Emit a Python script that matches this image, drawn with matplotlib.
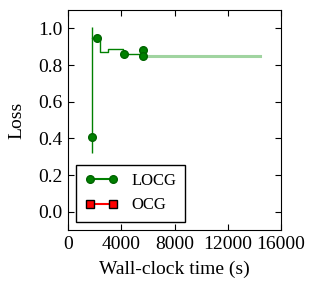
import numpy as np
import matplotlib
matplotlib.use("Agg")
import matplotlib.pyplot as plt

plt.rcParams['font.family'] = ['Liberation Serif', 'DejaVu Serif']
plt.rcParams['xtick.direction'] = 'in'
plt.rcParams['ytick.direction'] = 'in'
plt.rcParams['xtick.top'] = True
plt.rcParams['ytick.right'] = True

# LOCG evaluated points
locg_time = [1800, 2200, 4200, 5600, 5600]
locg_loss = [0.41, 0.95, 0.86, 0.88, 0.85]
locg_err_lo = [0.09, 0.01, 0.01, 0.02, 0.01]
locg_err_hi = [0.60, 0.01, 0.01, 0.02, 0.01]

# LOCG running trajectory (step line)
traj_time = [1800, 2400, 3000, 4150, 5600]
traj_loss = [0.95, 0.87, 0.89, 0.86, 0.86]

# final best value extended to end of budget
final_time = [5600, 14400]
final_loss = [0.85, 0.85]

# OCG: no points in view
ocg_time = []
ocg_loss = []

fig = plt.figure(figsize=(3.17, 2.91), dpi=100)
ax = fig.add_axes([0.2145, 0.2096, 0.672, 0.756])

ax.plot(final_time, final_loss, color='#2ca02c', alpha=0.45, lw=2.2)
ax.plot(traj_time, traj_loss, color='green', lw=1.0, drawstyle='steps-post')
ax.errorbar(locg_time, locg_loss, yerr=[locg_err_lo, locg_err_hi], fmt='o',
            color='green', ecolor='green', elinewidth=1.0, ms=5.5,
            mec='darkgreen', capsize=0)
ax.plot([], [], '-o', color='green', mec='darkgreen', ms=5.5, label='LOCG')
ax.plot(ocg_time, ocg_loss, '-s', color='red', mec='black', ms=5.5, label='OCG')

ax.set_xlim(0, 16000)
ax.set_ylim(-0.1, 1.1)
ax.set_xticks([0, 4000, 8000, 12000, 16000])
ax.set_yticks([0.0, 0.2, 0.4, 0.6, 0.8, 1.0])
ax.tick_params(labelsize=14, length=4, pad=4)
ax.set_xlabel('Wall-clock time (s)', fontsize=14, labelpad=6)
ax.set_ylabel('Loss', fontsize=14, labelpad=9)

leg = ax.legend(loc='lower left', fontsize=12, numpoints=2, fancybox=False,
                framealpha=1, edgecolor='black', borderaxespad=0.5,
                handlelength=2.0, borderpad=0.5)
leg.get_frame().set_linewidth(1.0)

fig.savefig('out.png', dpi=100)
